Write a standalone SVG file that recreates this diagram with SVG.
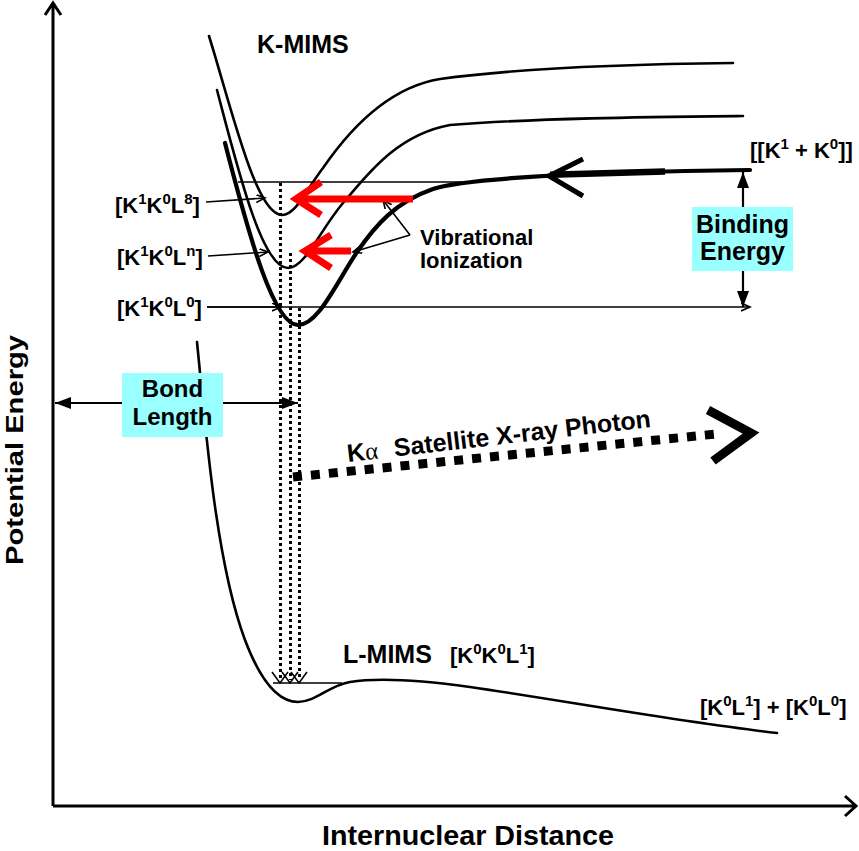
<svg xmlns="http://www.w3.org/2000/svg" width="859" height="851" viewBox="0 0 859 851">
<defs>
<style>
text{font-family:"Liberation Sans",Arial,sans-serif;font-weight:bold;fill:#000}
.thin{fill:none;stroke:#000;stroke-width:1.6}
.curve{fill:none;stroke:#000;stroke-width:2.6;stroke-linecap:round}
.thick{fill:none;stroke:#000;stroke-width:4.2;stroke-linecap:round}
.dot{fill:none;stroke:#000;stroke-width:3;stroke-dasharray:3,3}
.red{fill:none;stroke:#ff0000;stroke-width:7;stroke-linecap:butt}
.box{fill:#99ffff}
.sup{font-size:15px}
</style>
<marker id="open" markerUnits="userSpaceOnUse" markerWidth="12" markerHeight="12" refX="9" refY="4" orient="auto-start-reverse"><path d="M0,0 L9,4 L0,8" fill="none" stroke="#000" stroke-width="1.6"/></marker>
<marker id="solid" markerUnits="userSpaceOnUse" markerWidth="20" markerHeight="16" refX="16" refY="6" orient="auto-start-reverse"><path d="M0,0 L16,6 L0,12 z" fill="#000"/></marker>
</defs>
<rect width="859" height="851" fill="#fff"/>

<g id="axes">
<path d="M53,806 V3 M45,15 L53,3 L61,15" fill="none" stroke="#000" stroke-width="3"/>
<path d="M53,806 H856 M845,796 L856,806 L845,816" fill="none" stroke="#000" stroke-width="3"/>
<text x="322" y="845" font-size="27" textLength="292" lengthAdjust="spacingAndGlyphs">Internuclear Distance</text>
<text transform="translate(23,565) rotate(-90)" font-size="24" textLength="230" lengthAdjust="spacingAndGlyphs">Potential Energy</text>
</g>

<g id="k-mims-curves">
<path class="curve" d="M209,36 C232,110 256,215 282,215 C296,215 306,190 323,168 C345,136 385,88 440,79 C520,68 640,64 733,63"/>
<path class="curve" d="M217,90 C238,170 262,268 288,268 C305,268 320,230 343,203 C365,178 395,135 450,125 C540,118 650,117 743,116"/>
<path class="thick" d="M225,143 C250,240 274,325 298,325 C318,325 335,285 357,252 C375,226 395,202 433,189 C460,180 560,172 750,170"/>
<path d="M550,174.8 L665,171.6" stroke="#000" stroke-width="6.5" fill="none"/>
<path d="M583,159 L549,176 L583,196" stroke="#000" stroke-width="5" fill="none"/>
<text x="257" y="53" font-size="25">K-MIMS</text>
</g>

<g id="levels">
<path class="thin" d="M238,182 H462"/>
<path class="dot" d="M280.5,183 V680 M290.5,253 V680 M299.5,308 V680"/>
<path class="thin" d="M272,672 L280,683 L288,672 M282,672 L290,683 L298,672 M291,672 L299,683 L307,672"/>
<path class="thin" d="M273,683 H342"/>
</g>

<g id="l-mims-curve">
<path class="curve" d="M197,342 C205,420 215,560 245,640 C262,685 280,702 298,702 C315,702 330,685 350,682 C380,677 420,680 470,687 C560,700 680,722 777,733"/>
<text x="343" y="663" font-size="25">L-MIMS</text>
<text x="450" y="663" font-size="22">[K<tspan class="sup" dy="-9">0</tspan><tspan dy="9">K</tspan><tspan class="sup" dy="-9">0</tspan><tspan dy="9">L</tspan><tspan class="sup" dy="-9">1</tspan><tspan dy="9">]</tspan></text>
<text x="700" y="715" font-size="22">[K<tspan class="sup" dy="-9">0</tspan><tspan dy="9">L</tspan><tspan class="sup" dy="-9">1</tspan><tspan dy="9">] + [K</tspan><tspan class="sup" dy="-9">0</tspan><tspan dy="9">L</tspan><tspan class="sup" dy="-9">0</tspan><tspan dy="9">]</tspan></text>
</g>

<g id="connectors">
<path class="thin" d="M206,202 L265,198" marker-end="url(#open)"/>
<path class="thin" d="M208,256 L268,252" marker-end="url(#open)"/>
<path class="thin" d="M207,307 L750,307" marker-end="url(#open)"/>
<path class="thin" d="M207,307 L281,307" marker-end="url(#open)"/>
<path class="thin" d="M410,235 L383,200" marker-end="url(#open)"/>
<path class="thin" d="M410,235 L353,252" marker-end="url(#open)"/>
<path d="M55,403 H298" stroke="#000" stroke-width="2.2" marker-start="url(#solid)" marker-end="url(#solid)"/>
<path d="M743,172 V307" stroke="#000" stroke-width="2.2" marker-start="url(#solid)" marker-end="url(#solid)"/>
<path class="red" d="M413,199 H296 M321,182 L296,199 L321,215"/>
<path class="red" d="M351,251 H305 M331,235 L305,251 L331,268"/>
<path d="M293,477 L720,433.6" stroke="#000" stroke-width="9" stroke-dasharray="9,9" fill="none"/>
<path d="M708,410 L751,433 L713,461" stroke="#000" stroke-width="9" fill="none"/>
</g>

<g id="level-labels">
<text x="115" y="213" font-size="22">[K<tspan class="sup" dy="-9">1</tspan><tspan dy="9">K</tspan><tspan class="sup" dy="-9">0</tspan><tspan dy="9">L</tspan><tspan class="sup" dy="-9">8</tspan><tspan dy="9">]</tspan></text>
<text x="117" y="265" font-size="22">[K<tspan class="sup" dy="-9">1</tspan><tspan dy="9">K</tspan><tspan class="sup" dy="-9">0</tspan><tspan dy="9">L</tspan><tspan class="sup" dy="-9">n</tspan><tspan dy="9">]</tspan></text>
<text x="117" y="316" font-size="22">[K<tspan class="sup" dy="-9">1</tspan><tspan dy="9">K</tspan><tspan class="sup" dy="-9">0</tspan><tspan dy="9">L</tspan><tspan class="sup" dy="-9">0</tspan><tspan dy="9">]</tspan></text>
<text x="750" y="158" font-size="22">[[K<tspan class="sup" dy="-9">1</tspan><tspan dy="9"> + K</tspan><tspan class="sup" dy="-9">0</tspan><tspan dy="9">]]</tspan></text>
</g>

<g id="vibrational-ionization">
<text x="420" y="245" font-size="22">Vibrational</text>
<text x="420" y="268" font-size="22">Ionization</text>
</g>

<g id="bond-length">
<rect class="box" x="122" y="373" width="101" height="64"/>
<text x="172.5" y="397" font-size="24" text-anchor="middle">Bond</text>
<text x="172.5" y="425" font-size="24" text-anchor="middle">Length</text>
</g>

<g id="binding-energy">
<rect class="box" x="692" y="207" width="101" height="64"/>
<text x="742.5" y="233" font-size="25" text-anchor="middle">Binding</text>
<text x="742.5" y="260" font-size="25" text-anchor="middle">Energy</text>
</g>

<g id="photon-label">
<text transform="translate(348,462) rotate(-6.6)" font-size="25">K<tspan font-family="Liberation Serif,serif" font-weight="normal">α</tspan><tspan dx="16">Satellite X-ray Photon</tspan></text>
</g>
</svg>
